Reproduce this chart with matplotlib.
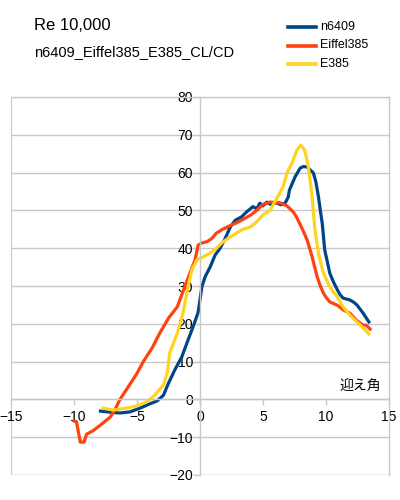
import matplotlib
matplotlib.use("Agg")
import matplotlib.pyplot as plt
from matplotlib.lines import Line2D

plt.rcParams['font.family'] = ['Liberation Sans', 'Noto Sans CJK JP', 'DejaVu Sans']

# angle of attack / CL/CD
n6409_x = [-7.9, -7.1, -6.35, -5.55, -4.75, -4.0, -3.4, -2.9, -2.5, -2.0, -1.45, -0.95,
           -0.55, -0.15, 0.15, 0.4, 0.8, 1.2, 1.6, 2.0, 2.4, 2.8, 3.3, 3.7, 4.2, 4.5,
           4.75, 5.0, 5.3, 5.6, 6.1, 6.4, 6.75, 7.0, 7.1, 7.55, 7.95, 8.2, 8.5, 9.0, 9.2,
           9.4, 9.55, 9.7, 9.9, 10.1, 10.3, 10.6, 10.9, 11.1, 11.35, 11.9, 12.2, 12.45,
           12.95, 13.4]
n6409_y = [-3.1, -3.4, -3.6, -3.3, -2.3, -1.2, -0.4, 1.1, 4.3, 7.8, 11.2, 15.7,
           19.2, 23.0, 29.8, 32.4, 35.0, 38.2, 40.0, 42.6, 45.6, 47.4, 48.3, 49.6, 51.0, 50.4,
           51.9, 51.2, 52.2, 51.6, 52.0, 51.5, 51.9, 53.5, 55.4, 58.9, 61.2, 61.6, 61.5, 59.9,
           57.5, 53.6, 50.0, 46.6, 39.5, 36.5, 33.4, 31.0, 29.0, 27.8, 26.8, 26.3, 25.7, 25.0,
           22.8, 20.5]

eiffel_x = [-10.0, -9.8, -9.5, -9.2, -9.0, -8.5, -7.9, -7.1, -6.7, -6.35, -5.7, -5.0,
            -4.5, -3.8, -3.2, -2.5, -1.8, -1.3, -0.8, -0.4, -0.15, 0.15, 0.55, 0.95,
            1.3, 1.8, 2.4, 2.9, 3.4, 4.0, 4.5, 5.0, 5.55, 6.35, 6.9, 7.4, 7.65, 7.9, 8.2,
            8.5, 8.7, 8.9, 9.1, 9.3, 9.55, 9.8, 10.05, 10.3, 10.9, 11.4, 11.9, 12.4, 12.9,
            13.2, 13.5]
eiffel_y = [-5.7, -6.0, -11.3, -11.3, -9.2, -8.3, -6.8, -4.6, -2.4, 0.0, 3.3, 6.9,
            10.0, 13.6, 17.5, 21.5, 24.5, 29.0, 33.4, 36.8, 40.8, 41.4, 41.7, 42.6,
            44.0, 45.0, 46.0, 46.7, 47.6, 48.7, 50.0, 51.6, 52.2, 52.0, 51.2, 49.6, 48.3, 46.6,
            44.5, 42.2, 40.0, 37.7, 35.0, 32.4, 30.0, 28.1, 26.8, 25.8, 24.9, 23.6, 22.8, 21.0,
            19.7, 19.6, 18.6]

e385_x = [-7.7, -6.9, -5.8, -5.0, -4.2, -3.6, -2.9, -2.6, -2.4, -1.8, -1.35, -0.95,
          -0.65, -0.25, 0.25, 0.8, 1.3, 1.8, 2.4, 2.9, 3.4, 4.0, 4.5, 5.0, 5.55, 6.1,
          6.6, 6.9, 7.3, 7.7, 8.0, 8.3, 8.45, 8.6, 8.75, 8.9, 9.0, 9.1, 9.25, 9.4, 9.6,
          9.8, 10.3, 10.9, 11.35, 11.9, 12.45, 12.95, 13.4]
e385_y = [-2.3, -2.8, -2.3, -1.7, -0.6, 1.1, 3.8, 7.0, 12.3, 17.5, 22.8, 29.8,
          34.2, 36.9, 37.7, 38.7, 40.0, 41.6, 43.0, 44.0, 45.0, 45.6, 47.0, 48.8, 50.0, 53.2,
          56.3, 59.9, 62.5, 66.0, 67.3, 66.0, 64.0, 61.5, 57.5, 53.6, 49.5, 45.6, 42.0, 38.7,
          35.8, 33.4, 29.8, 27.1, 24.5, 22.3, 20.5, 18.9, 17.3]

series = [("n6409", n6409_x, n6409_y, "#004586"),
          ("Eiffel385", eiffel_x, eiffel_y, "#ff420e"),
          ("E385", e385_x, e385_y, "#ffd320")]

fig = plt.figure(figsize=(4, 5), dpi=100)
ax = fig.add_axes([0.0275, 0.05, 0.945, 0.756])
grid_c = "#c8c8c8"

ax.set_xlim(-15, 15)
ax.set_ylim(-20, 80)
ax.set_xticks(range(-15, 16, 5))
ax.set_yticks(range(-20, 81, 10))
ax.yaxis.grid(True, color=grid_c, linewidth=1)
ax.set_axisbelow(True)

ax.spines['left'].set_position(('data', 0))
ax.spines['bottom'].set_position(('data', 0))
for s in ax.spines.values():
    s.set_color(grid_c)
    s.set_linewidth(1)
ax.axvline(-15, color=grid_c, linewidth=1.5, zorder=0)
ax.axhline(-20, color=grid_c, linewidth=1, zorder=0)
ax.tick_params(axis='both', colors=grid_c, labelcolor="black", labelsize=10,
               length=4, width=1, direction='out')
ax.tick_params(axis='y', pad=1)

for name, xs, ys, c in series:
    ax.plot(xs, ys, color=c, linewidth=2.3, solid_joinstyle='round')

ax.text(11.1, 3.3, "迎え角", fontsize=10, ha='left', va='center')

fig.text(34 / 400, 1 - 25 / 500, "Re 10,000", fontsize=12, ha='left', va='center')
fig.text(34 / 400, 1 - 52 / 500, "n6409_Eiffel385_E385_CL/CD", fontsize=10.5,
         ha='left', va='center')

# legend at the top right
for i, (name, xs, ys, c) in enumerate(series):
    yy = 1 - (27 + 18.5 * i) / 500
    fig.add_artist(Line2D([288 / 400, 316 / 400], [yy, yy], color=c, linewidth=2.6))
    fig.text(320 / 400, yy, name, fontsize=9, ha='left', va='center')

fig.savefig("out.png", dpi=100)
